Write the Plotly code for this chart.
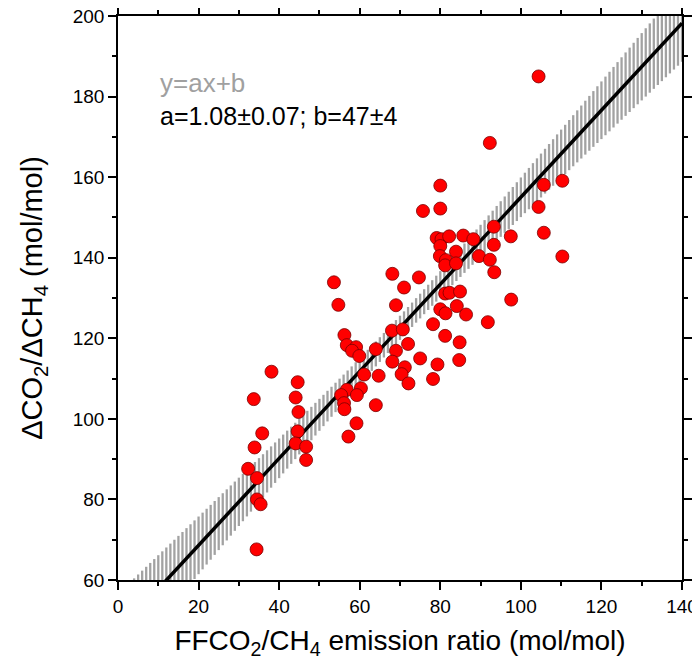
import numpy as np
import plotly.graph_objects as go

ff_ratio = [104.4, 92.3, 80.0, 75.7, 80.0, 105.7, 110.3, 104.4, 93.3, 105.7,
            97.5, 79.1, 80.3, 82.2, 85.7, 88.2, 80.0, 93.3, 83.9, 79.9,
            81.4, 81.2, 83.9, 89.6, 92.3, 93.4, 110.3, 68.1, 74.7, 71.0,
            81.2, 82.3, 84.9, 97.6, 69.0, 80.0, 81.3, 84.1, 86.4, 91.8,
            78.2, 68.0, 70.7, 81.2, 84.8, 72.0, 64.0, 69.0, 68.1, 75.0,
            79.3, 84.7, 71.2, 70.4, 64.7, 61.1, 72.1, 78.2, 60.3, 64.0,
            53.6, 54.7, 56.2, 56.8, 59.1, 58.1, 59.9, 56.8, 55.4, 59.3,
            56.1, 56.2, 59.2, 57.2, 38.1, 44.6, 44.1, 44.8, 33.7, 44.6,
            44.1, 46.7, 46.7, 35.8, 33.9, 32.3, 34.5, 34.5, 35.4, 34.4]
dco2_dch4 = [185.0, 168.5, 157.9, 151.6, 152.2, 158.1, 159.1, 152.6, 147.7, 146.2,
             145.3, 144.9, 144.6, 145.3, 145.5, 144.6, 142.9, 143.2, 141.5, 140.4,
             139.4, 138.1, 138.6, 140.4, 139.5, 136.4, 140.3, 136.0, 135.1, 132.6,
             131.1, 131.3, 131.6, 129.6, 128.2, 127.2, 126.2, 128.0, 125.9, 124.0,
             123.5, 121.9, 122.2, 120.6, 119.0, 118.6, 117.3, 116.9, 114.2, 115.0,
             113.5, 114.6, 112.8, 111.1, 110.7, 111.0, 108.8, 109.9, 107.6, 103.4,
             133.9, 128.3, 120.8, 118.3, 117.8, 116.9, 115.6, 107.2, 105.9, 105.9,
             103.9, 102.4, 98.9, 95.6, 111.7, 109.1, 105.3, 101.7, 104.9, 96.9,
             93.9, 93.1, 89.8, 96.4, 92.9, 87.6, 85.3, 80.0, 78.8, 67.6]

# fit y = a*x + b
fit_a, fit_b = 1.08, 47.0
# uncertainty band around the fit (hyperbolic confidence band)
band_s0, band_k, band_xm = 3.0, 0.13, 70.0

band_x = np.arange(4.0, 141.0, 1.0)
band_hw = np.sqrt(band_s0 ** 2 + (band_k * (band_x - band_xm)) ** 2)
band_mid = fit_a * band_x + fit_b
bx, by = [], []
for x, m, h in zip(band_x, band_mid, band_hw):
    bx += [x, x, None]
    by += [m - h, m + h, None]

fit_x = np.array([0.0, 140.0])
fit_y = fit_a * fit_x + fit_b

fig = go.Figure()
fig.add_trace(go.Scatter(x=bx, y=by, mode="lines",
                         line=dict(color="#a2a2a2", width=2.3),
                         hoverinfo="skip", showlegend=False))
fig.add_trace(go.Scatter(x=fit_x, y=fit_y, mode="lines",
                         line=dict(color="black", width=3.5),
                         showlegend=False))
fig.add_trace(go.Scatter(x=ff_ratio, y=dco2_dch4, mode="markers",
                         marker=dict(size=13, color="#ff0000",
                                     line=dict(color="#7a0000", width=0.8)),
                         showlegend=False))

font_family = "Arial, Liberation Sans, sans-serif"
axis_common = dict(
    showline=True, linecolor="black", linewidth=1.5, mirror="ticks",
    ticks="outside", ticklen=8, tickwidth=1.5, tickcolor="black",
    showgrid=False, zeroline=False, automargin=False,
    ticklabeloverflow="allow",
    tickfont=dict(size=19, color="black", family=font_family),
    minor=dict(ticks="outside", ticklen=4, tickwidth=1.5, tickcolor="black"),
)

fig.update_xaxes(range=[0, 140], tick0=0, dtick=20, minor_dtick=10,
                 title=dict(text="FFCO<sub>2</sub>/CH<sub>4</sub> emission ratio (mol/mol)",
                            standoff=15,
                            font=dict(size=28, color="black", family=font_family)),
                 **axis_common)
fig.update_yaxes(range=[60, 200], tick0=60, dtick=20, minor_dtick=10,
                 title=dict(text="ΔCO<sub>2</sub>/ΔCH<sub>4</sub> (mol/mol)",
                            standoff=22,
                            font=dict(size=29, color="black", family=font_family)),
                 **axis_common)

fig.add_annotation(x=0.071, y=0.881, xref="paper", yref="paper",
                   xanchor="left", yanchor="middle", showarrow=False,
                   text="y=ax+b", font=dict(size=26, color="#a0a0a0", family=font_family))
fig.add_annotation(x=0.071, y=0.823, xref="paper", yref="paper",
                   xanchor="left", yanchor="middle", showarrow=False,
                   text="a=1.08±0.07; b=47±4", font=dict(size=25, color="black", family=font_family))

# page body adds ~8 px offset; size the figure so the plot box lands where the reference has it
fig.update_layout(width=692, height=654,
                  margin=dict(l=110, r=18, t=8, b=82),
                  plot_bgcolor="white", paper_bgcolor="white")

fig.write_html("out.html")
